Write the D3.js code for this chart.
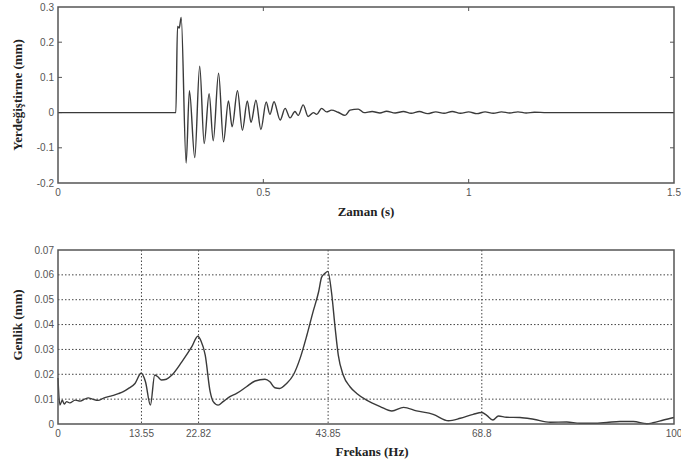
<!DOCTYPE html>
<html>
<head>
<meta charset="utf-8">
<script src="https://cdn.jsdelivr.net/npm/d3@7"></script>
<style>
  body { margin: 0; background: #fff; }
  svg { display: block; }
</style>
</head>
<body>
<div id="chart"></div>
<script>
// displacement record
const timeS = [0, 0.287, 0.291, 0.295, 0.300, 0.312, 0.320, 0.333, 0.345, 0.356, 0.368, 0.378, 0.391, 0.403, 0.415,
    0.424, 0.437, 0.449, 0.461, 0.470, 0.482, 0.494, 0.507, 0.516, 0.526, 0.541, 0.553, 0.565, 0.577, 0.585,
    0.597, 0.609, 0.622, 0.630, 0.642, 0.654, 0.666, 0.682, 0.699, 0.711, 0.731, 0.745, 0.765, 0.784, 0.800,
    0.821, 0.841, 0.86, 0.88, 0.90, 0.92, 0.94, 0.96, 0.98, 1.00, 1.02, 1.04, 1.06, 1.08, 1.10,
    1.12, 1.14, 1.16, 1.19, 1.5];
const dispMm = [0, 0, 0.245, 0.24, 0.27, -0.143, 0.062, -0.128, 0.132, -0.088, 0.054, -0.08, 0.112, -0.083, 0.033,
    -0.04, 0.062, -0.05, 0.033, -0.028, 0.035, -0.048, 0.03, -0.005, 0.031, -0.021, 0.012, -0.015, 0.003, -0.008,
    0.022, -0.011, 0.0, -0.005, 0.012, 0.002, 0.007, 0.001, -0.008, 0.007, 0.010, 0.0, 0.003, -0.001, 0.004,
    -0.001, 0.003, -0.002, 0.003, -0.003, 0.002, -0.002, 0.003, -0.002, 0.002, -0.003, 0.002, -0.002, 0.002, -0.001,
    0.002, -0.001, 0.001, 0, 0];
const timeTicks = [0, 0.5, 1, 1.5];
const dispTicks = [-0.2, -0.1, 0, 0.1, 0.2, 0.3];

// amplitude spectrum
const freqHz = [0, 0.3, 0.7, 1.0, 1.4, 1.9, 2.8, 3.6, 4.4, 4.9, 5.6, 6.5, 7.4, 8.2, 9.0, 9.8, 10.6, 11.4, 12.5, 13.5,
    14.2, 15.0, 15.7, 16.2, 16.8, 17.6, 18.5, 20.1, 21.7, 22.7, 23.2, 23.9, 24.7, 25.2, 26.0, 26.8, 27.9, 29.0, 30.6, 32.0,
    33.6, 34.4, 35.2, 36.0, 37.1, 38.2, 39.3, 40.4, 41.4, 42.3, 42.8, 43.3, 43.8, 44.4, 45.0, 45.5, 46.3, 47.4, 48.5, 50.1,
    52.3, 54.2, 56.1, 58.2, 60.9, 63.4, 65.3, 67.4, 68.8, 69.6, 70.6, 71.5, 72.8, 75.0, 77.2, 79.9, 82.6, 84.7, 86.9, 89.1,
    91.2, 93.4, 95.6, 96.6, 98.3, 100];
const ampMm = [0.0185, 0.0076, 0.0096, 0.008, 0.009, 0.0085, 0.0096, 0.0092, 0.0101, 0.0105, 0.0100, 0.0095, 0.0104, 0.011, 0.0115, 0.0122, 0.0130, 0.0142, 0.0163, 0.0204,
    0.017, 0.0076, 0.0197, 0.019, 0.0177, 0.018, 0.0197, 0.025, 0.031, 0.0353, 0.0335, 0.0277, 0.013, 0.009, 0.0076, 0.009, 0.011, 0.0123, 0.015, 0.0173,
    0.018, 0.017, 0.0146, 0.0143, 0.0163, 0.0197, 0.0264, 0.0357, 0.0451, 0.0531, 0.0591, 0.0605, 0.0614, 0.053, 0.0384, 0.0277, 0.0197, 0.015, 0.0123, 0.0096,
    0.007, 0.0052, 0.0067, 0.0053, 0.0039, 0.0013, 0.0023, 0.0039, 0.0046, 0.0035, 0.0016, 0.0032, 0.0027, 0.0026, 0.0019, 0.0007, 0.0008, 0.0003, 0.0003, 0.0006,
    0.001, 0.001, 0.0001, 0.0005, 0.0016, 0.0026];
const freqTicks = [0, 13.55, 22.82, 43.85, 68.8, 100];
const ampTicks = [0, 0.01, 0.02, 0.03, 0.04, 0.05, 0.06, 0.07];

const width = 681, height = 470;
const left = 58, right = 674;
const frameColor = '#555', lineColor = '#3a3a3a', labelColor = '#555';

const svg = d3.select('#chart').append('svg')
    .attr('width', width)
    .attr('height', height);

const fmt = d => d === 0 ? '0' : String(d);

const drawTicks = (g, x, y, xt, yt, top, bottom) => {
    const tl = 4;
    xt.forEach(t => {
        g.append('line').attr('x1', x(t)).attr('x2', x(t)).attr('y1', bottom).attr('y2', bottom - tl);
        g.append('line').attr('x1', x(t)).attr('x2', x(t)).attr('y1', top).attr('y2', top + tl);
    });
    yt.forEach(t => {
        g.append('line').attr('x1', left).attr('x2', left + tl).attr('y1', y(t)).attr('y2', y(t));
        g.append('line').attr('x1', right).attr('x2', right - tl).attr('y1', y(t)).attr('y2', y(t));
    });
    g.selectAll('line').attr('stroke', frameColor).attr('stroke-width', 1);
};

const drawLabels = (x, y, xt, yt, bottom) => {
    svg.append('g').selectAll('text').data(xt).join('text')
        .attr('x', d => x(d)).attr('y', bottom + 13)
        .attr('text-anchor', 'middle')
        .attr('font-family', 'Liberation Sans, Arial, sans-serif')
        .attr('font-size', '10px')
        .attr('fill', labelColor)
        .text(fmt);
    svg.append('g').selectAll('text').data(yt).join('text')
        .attr('x', left - 4).attr('y', d => y(d) + 3.5)
        .attr('text-anchor', 'end')
        .attr('font-family', 'Liberation Sans, Arial, sans-serif')
        .attr('font-size', '10px')
        .attr('fill', labelColor)
        .text(fmt);
};

const title = (txt, x, y, rot) => {
    svg.append('text')
        .attr('transform', `translate(${x},${y})` + (rot ? ' rotate(-90)' : ''))
        .attr('text-anchor', 'middle')
        .attr('font-family', 'Liberation Serif, Times New Roman, serif')
        .attr('font-weight', 'bold')
        .attr('font-size', '13px')
        .attr('fill', '#222')
        .text(txt);
};

// ---- top: displacement vs time
const top1 = 7, bottom1 = 183;
const x1 = d3.scaleLinear().domain([0, 1.5]).range([left, right]);
const y1 = d3.scaleLinear().domain([-0.2, 0.3]).range([bottom1, top1]);

drawTicks(svg.append('g'), x1, y1, timeTicks.slice(1, -1), dispTicks.slice(1, -1), top1, bottom1);

svg.append('path')
    .datum(timeS.map((t, i) => [t, dispMm[i]]))
    .attr('fill', 'none')
    .attr('stroke', lineColor)
    .attr('stroke-width', 1.4)
    .attr('d', d3.line().x(d => x1(d[0])).y(d => y1(d[1])).curve(d3.curveMonotoneX));

svg.append('rect')
    .attr('x', left).attr('y', top1)
    .attr('width', right - left).attr('height', bottom1 - top1)
    .attr('fill', 'none').attr('stroke', frameColor).attr('stroke-width', 1.5);

drawLabels(x1, y1, timeTicks, dispTicks, bottom1);
title('Zaman (s)', 366, 216, false);
title('Yerdeğiştirme (mm)', 22, 95, true);

// ---- bottom: amplitude spectrum
const top2 = 250, bottom2 = 424;
const x2 = d3.scaleLinear().domain([0, 100]).range([left, right]);
const y2 = d3.scaleLinear().domain([0, 0.07]).range([bottom2, top2]);

const grid = svg.append('g')
    .attr('stroke', '#444').attr('stroke-width', 1).attr('stroke-dasharray', '1.5,2');
freqTicks.slice(1, -1).forEach(t => {
    grid.append('line').attr('x1', x2(t)).attr('x2', x2(t)).attr('y1', top2).attr('y2', bottom2);
});
ampTicks.slice(1, -1).forEach(t => {
    grid.append('line').attr('x1', left).attr('x2', right).attr('y1', y2(t)).attr('y2', y2(t));
});

svg.append('path')
    .datum(freqHz.map((f, i) => [f, ampMm[i]]))
    .attr('fill', 'none')
    .attr('stroke', lineColor)
    .attr('stroke-width', 1.4)
    .attr('d', d3.line().x(d => x2(d[0])).y(d => y2(d[1])).curve(d3.curveMonotoneX));

svg.append('rect')
    .attr('x', left).attr('y', top2)
    .attr('width', right - left).attr('height', bottom2 - top2)
    .attr('fill', 'none').attr('stroke', frameColor).attr('stroke-width', 1.5);

drawLabels(x2, y2, freqTicks, ampTicks, bottom2);
title('Frekans (Hz)', 372, 456, false);
title('Genlik (mm)', 22, 325, true);
</script>
</body>
</html>
